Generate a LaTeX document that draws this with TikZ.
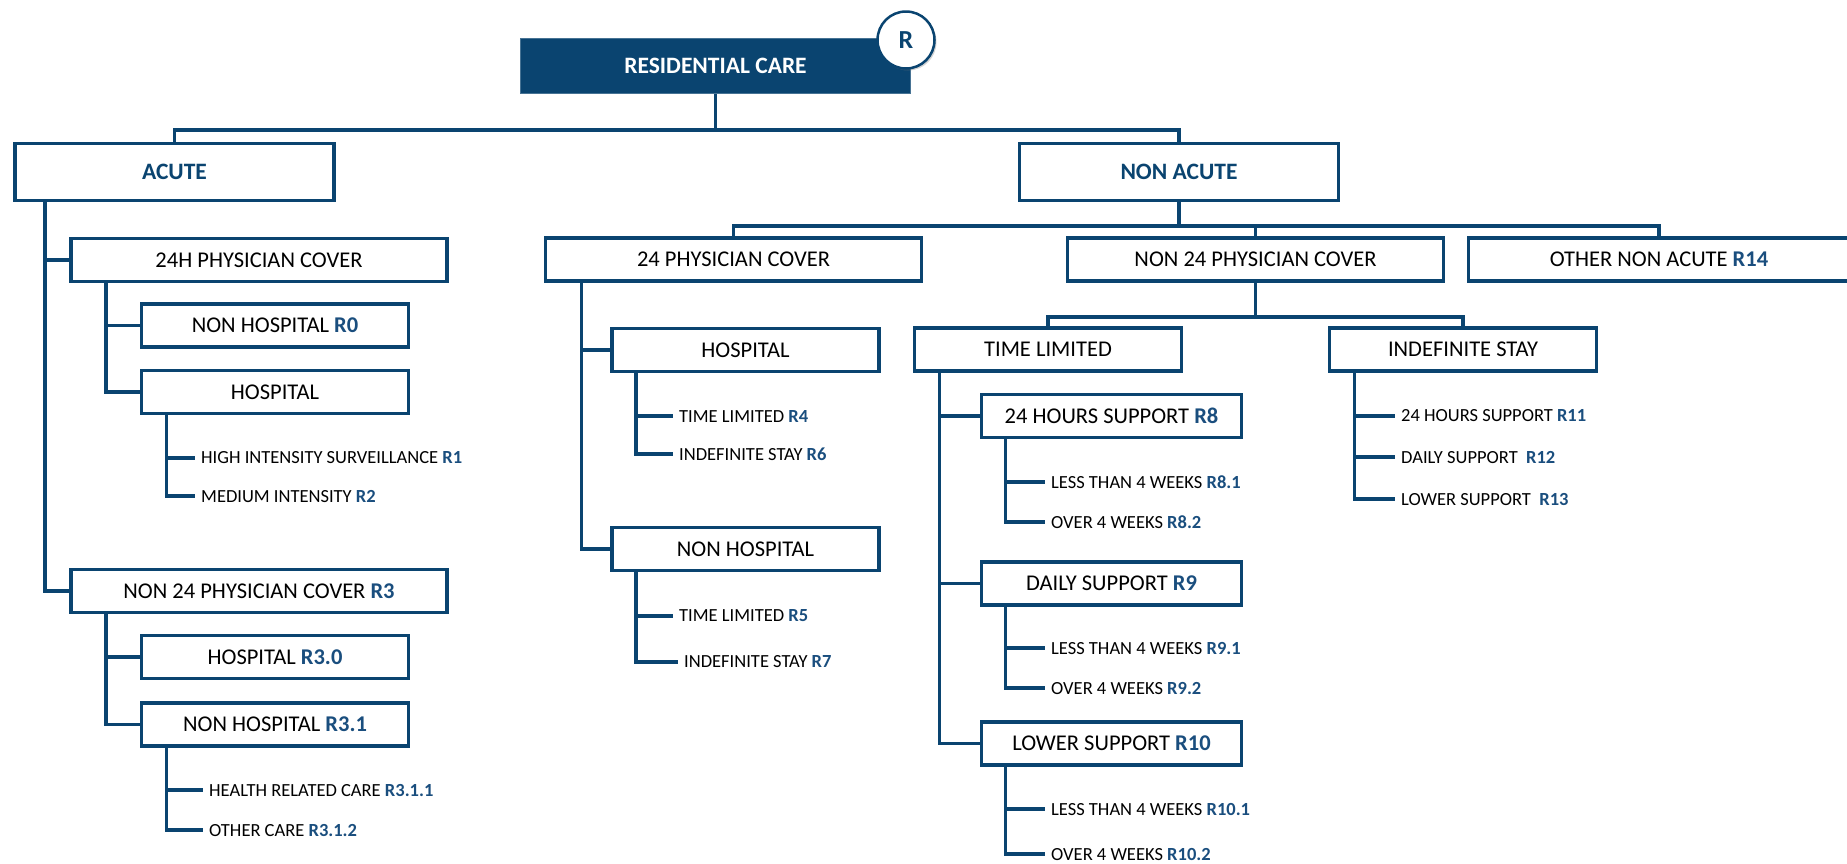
\documentclass[tikz,border=0pt]{standalone}
\usepackage{fontspec}
\setmainfont{Carlito}
\usetikzlibrary{shadows}
\definecolor{rcblue}{HTML}{0A4470}
\definecolor{rcnum}{HTML}{1A4E7E}
\newcommand{\rnum}[1]{\textcolor{rcnum}{\bfseries #1}}
\begin{document}
\begin{tikzpicture}[x=1pt,y=-1pt,
    topbox/.style ={rectangle, fill=rcblue, draw=rcblue!75!white, line width=1pt, text=white,
                    font=\fontsize{23.5}{28}\selectfont\bfseries, minimum width=390pt, minimum height=55pt, inner sep=0pt},
    rbadge/.style ={circle, fill=white, draw=rcblue, line width=2.5pt, text=rcblue,
                    font=\fontsize{26}{30}\selectfont\bfseries, minimum size=57pt, inner sep=0pt,
                    drop shadow={opacity=0.35, shadow xshift=2pt, shadow yshift=-2pt}},
    catbox/.style ={rectangle, draw=rcblue, line width=3.5pt, fill=white, text=rcblue,
                    font=\fontsize{23.5}{28}\selectfont\bfseries, minimum width=319pt, minimum height=57pt, inner sep=0pt},
    widebox/.style ={rectangle, draw=rcblue, line width=3.5pt, fill=white,
                    font=\fontsize{22.5}{27}\selectfont, minimum width=376pt, minimum height=43pt, inner sep=0pt},
    midbox/.style ={widebox, minimum width=267pt},
    supbox/.style ={widebox, minimum width=260pt},
    leaf/.style ={anchor=west, inner xsep=6pt, inner ysep=0pt, font=\fontsize{18.5}{22}\selectfont},
    link/.style ={draw=rcblue, line width=3.5pt, line join=miter}]

   \useasboundingbox (0,0) rectangle (1847,863);

   \node[topbox] (rescare) at (715.5,66) {RESIDENTIAL CARE};
   \node[rbadge] (badge) at (906,40) {R};

   \node[catbox] (acute) at (174.5,172) {ACUTE};
   \node[catbox] (nonacute) at (1179,172) {NON ACUTE};

   \node[widebox] (ph24a) at (259,260) {24H PHYSICIAN COVER};
   \node[midbox] (nonhospa) at (275,325.5) {NON HOSPITAL \rnum{R0}};
   \node[midbox] (hospa) at (275,392) {HOSPITAL};
   \node[leaf] (r1) at (195,458) {HIGH INTENSITY SURVEILLANCE \rnum{R1}};
   \node[leaf] (r2) at (195,496) {MEDIUM INTENSITY \rnum{R2}};

   \node[widebox] (non24a) at (259,591) {NON 24 PHYSICIAN COVER \rnum{R3}};
   \node[midbox] (hosp30) at (275,657) {HOSPITAL \rnum{R3.0}};
   \node[midbox] (nonhosp31) at (275,724.5) {NON HOSPITAL \rnum{R3.1}};
   \node[leaf] (r311) at (203,790) {HEALTH RELATED CARE \rnum{R3.1.1}};
   \node[leaf] (r312) at (203,830) {OTHER CARE \rnum{R3.1.2}};

   \node[widebox] (ph24b) at (733.5,259.5) {24 PHYSICIAN COVER};
   \node[midbox] (hospb) at (745.5,350) {HOSPITAL};
   \node[midbox] (nonhospb) at (745.5,549) {NON HOSPITAL};
   \node[leaf] (r4) at (673,416) {TIME LIMITED \rnum{R4}};
   \node[leaf] (r6) at (673,454) {INDEFINITE STAY \rnum{R6}};
   \node[leaf] (r5) at (673,616) {TIME LIMITED \rnum{R5}};
   \node[leaf] (r7) at (678,662) {INDEFINITE STAY \rnum{R7}};

   \node[widebox] (non24b) at (1255.5,259.5) {NON 24 PHYSICIAN COVER};
   \node[widebox, minimum width=381pt] (othernon) at (1659,259.5) {OTHER NON ACUTE \rnum{R14}};

   \node[midbox] (timelim) at (1048,349.5) {TIME LIMITED};
   \node[midbox] (indef) at (1463,349.5) {INDEFINITE STAY};

   \node[supbox] (sup24) at (1111.5,416) {24 HOURS SUPPORT \rnum{R8}};
   \node[leaf] (r81) at (1045,482) {LESS THAN 4 WEEKS \rnum{R8.1}};
   \node[leaf] (r82) at (1045,522) {OVER 4 WEEKS \rnum{R8.2}};
   \node[supbox] (dailysup) at (1111.5,583.5) {DAILY SUPPORT \rnum{R9}};
   \node[leaf] (r91) at (1045,648) {LESS THAN 4 WEEKS \rnum{R9.1}};
   \node[leaf] (r92) at (1045,688) {OVER 4 WEEKS \rnum{R9.2}};
   \node[supbox] (lowersup) at (1111.5,743.5) {LOWER SUPPORT \rnum{R10}};
   \node[leaf] (r101) at (1045,809) {LESS THAN 4 WEEKS \rnum{R10.1}};
   \node[leaf] (r102) at (1045,854) {OVER 4 WEEKS \rnum{R10.2}};

   \node[leaf] (r11) at (1395,416) {24 HOURS SUPPORT \rnum{R11}};
   \node[leaf] (r12) at (1395,457) {DAILY SUPPORT~ \rnum{R12}};
   \node[leaf] (r13) at (1395,499) {LOWER SUPPORT~ \rnum{R13}};

   \coordinate (bus1) at (715.5,130);
   \coordinate (bus2) at (1179,226);
   \coordinate (bus3) at (1255.5,317);

   \draw[link] (rescare.south) -- (bus1);
   \draw[link] (acute.north) |- (bus1);
   \draw[link] (nonacute.north) |- (bus1);

   \draw[link] (nonacute.south) -- (bus2);
   \draw[link] (ph24b.north) |- (bus2);
   \draw[link] (non24b.north) |- (bus2);
   \draw[link] (othernon.north) |- (bus2);

   \draw[link] (non24b.south) -- (bus3);
   \draw[link] (timelim.north) |- (bus3);
   \draw[link] (indef.north) |- (bus3);

   \draw[link] ([xshift=31.5pt]acute.south west) |- (ph24a.west);
   \draw[link] ([xshift=31.5pt]acute.south west) |- (non24a.west);
   \draw[link] ([xshift=36.5pt]ph24a.south west) |- (nonhospa.west);
   \draw[link] ([xshift=36.5pt]ph24a.south west) |- (hospa.west);
   \draw[link] ([xshift=26.5pt]hospa.south west) |- (r1.west);
   \draw[link] ([xshift=26.5pt]hospa.south west) |- (r2.west);
   \draw[link] ([xshift=36.5pt]non24a.south west) |- (hosp30.west);
   \draw[link] ([xshift=36.5pt]non24a.south west) |- (nonhosp31.west);
   \draw[link] ([xshift=26.5pt]nonhosp31.south west) |- (r311.west);
   \draw[link] ([xshift=26.5pt]nonhosp31.south west) |- (r312.west);

   \draw[link] ([xshift=37.5pt]ph24b.south west) |- (hospb.west);
   \draw[link] ([xshift=37.5pt]ph24b.south west) |- (nonhospb.west);
   \draw[link] ([xshift=25.5pt]hospb.south west) |- (r4.west);
   \draw[link] ([xshift=25.5pt]hospb.south west) |- (r6.west);
   \draw[link] ([xshift=25.5pt]nonhospb.south west) |- (r5.west);
   \draw[link] ([xshift=25.5pt]nonhospb.south west) |- (r7.west);

   \draw[link] ([xshift=26.5pt]timelim.south west) |- (sup24.west);
   \draw[link] ([xshift=26.5pt]timelim.south west) |- (dailysup.west);
   \draw[link] ([xshift=26.5pt]timelim.south west) |- (lowersup.west);
   \draw[link] ([xshift=25.5pt]sup24.south west) |- (r81.west);
   \draw[link] ([xshift=25.5pt]sup24.south west) |- (r82.west);
   \draw[link] ([xshift=25.5pt]dailysup.south west) |- (r91.west);
   \draw[link] ([xshift=25.5pt]dailysup.south west) |- (r92.west);
   \draw[link] ([xshift=25.5pt]lowersup.south west) |- (r101.west);
   \draw[link] ([xshift=25.5pt]lowersup.south west) |- (r102.west);

   \draw[link] ([xshift=26.5pt]indef.south west) |- (r11.west);
   \draw[link] ([xshift=26.5pt]indef.south west) |- (r12.west);
   \draw[link] ([xshift=26.5pt]indef.south west) |- (r13.west);
\end{tikzpicture}
\end{document}
